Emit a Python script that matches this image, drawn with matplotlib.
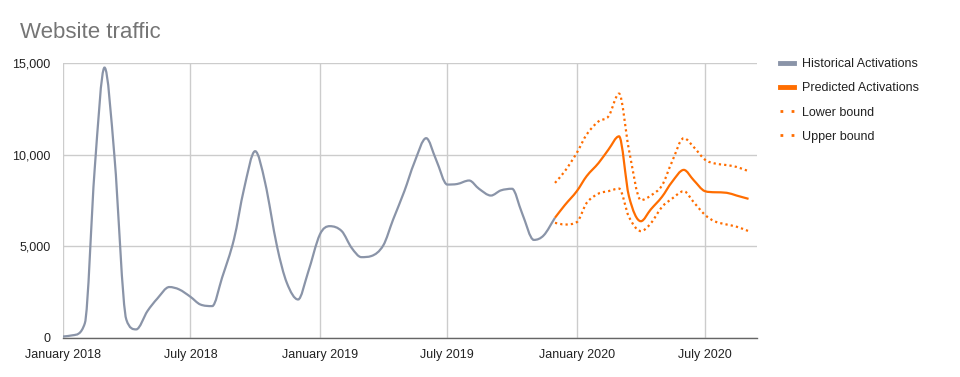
import matplotlib
matplotlib.use("Agg")
import matplotlib.pyplot as plt
import matplotlib.dates as mdates
import numpy as np
import pandas as pd
from matplotlib.path import Path
from matplotlib.patches import PathPatch
from matplotlib.lines import Line2D
from matplotlib.ticker import FuncFormatter

# semi-monthly samples (1st and 15th)
hist_dates = pd.date_range("2018-01-01", "2019-12-01", freq="SMS")
hist_values = [
    80, 150, 800, 9200, 14750, 9950, 1000, 470, 1470, 2150, 2780, 2650,
    2250, 1830, 1740, 3290, 5400, 8100, 10190, 8500, 5010, 3010, 2100, 3560,
    5650, 6100, 5830, 4920, 4410, 4470, 5050, 6460, 8010, 9550, 10900, 9730,
    8370, 8400, 8590, 8140, 7770, 8050, 8140, 6830, 5350, 5600, 6560,
]

pred_dates = pd.date_range("2019-12-01", "2020-09-01", freq="SMS")
pred_values = [6560, 7250, 8010, 8830, 9550, 10280, 11000, 7740, 6370, 7010,
               7700, 8500, 9170, 8610, 8010, 7950, 7920, 7770, 7590]
lower_values = [6280, 6190, 6320, 7370, 7880, 8010, 8150, 6610, 5830, 6250,
                7150, 7590, 8010, 7410, 6720, 6360, 6190, 6070, 5830]
upper_values = [8460, 9100, 10100, 11100, 11820, 12090, 13330, 10280, 7520, 7770,
                8320, 9590, 10900, 10420, 9730, 9520, 9430, 9330, 9100]

labels = ["Historical Activations", "Predicted Activations", "Lower bound", "Upper bound"]
x_ticks = ["2018-01-01", "2018-07-01", "2019-01-01", "2019-07-01", "2020-01-01", "2020-07-01"]
x_tick_labels = ["January 2018", "July 2018", "January 2019", "July 2019",
                 "January 2020", "July 2020"]
y_ticks = [0, 5000, 10000, 15000]

GREY = "#8a94a8"
ORANGE = "#ff6d00"


def smooth_path(x, y):
    # cubic hermite through the samples, tangents clamped (Fritsch-Carlson)
    x = np.asarray(x, float)
    y = np.asarray(y, float)
    h = np.diff(x)
    d = np.diff(y) / h
    m = np.zeros_like(y)
    m[0], m[-1] = d[0], d[-1]
    for k in range(1, len(y) - 1):
        if d[k - 1] * d[k] > 0:
            m[k] = (y[k + 1] - y[k - 1]) / (x[k + 1] - x[k - 1])
    for k in range(len(d)):
        if d[k] == 0:
            m[k] = m[k + 1] = 0
            continue
        a, b = m[k] / d[k], m[k + 1] / d[k]
        if a * a + b * b > 9:
            t = 3 / np.hypot(a, b)
            m[k], m[k + 1] = t * a * d[k], t * b * d[k]
    verts = [(x[0], y[0])]
    codes = [Path.MOVETO]
    for k in range(len(x) - 1):
        verts += [(x[k] + h[k] / 3, y[k] + m[k] * h[k] / 3),
                  (x[k + 1] - h[k] / 3, y[k + 1] - m[k + 1] * h[k] / 3),
                  (x[k + 1], y[k + 1])]
        codes += [Path.CURVE4] * 3
    return Path(verts, codes)


def main():
    plt.rcParams["font.family"] = ["Liberation Sans", "DejaVu Sans"]
    fig = plt.figure(figsize=(9.6, 3.77), dpi=100)
    ax = fig.add_axes([63 / 960, 1 - 338 / 377, 694 / 960, 275 / 377])

    hx = mdates.date2num(hist_dates)
    px = mdates.date2num(pred_dates)
    series = [
        (hx, hist_values, GREY, "-"),
        (px, pred_values, ORANGE, "-"),
        (px, lower_values, ORANGE, (0, (1, 1.4))),
        (px, upper_values, ORANGE, (0, (1, 1.4))),
    ]
    for xs, ys, color, ls in series:
        ax.add_patch(PathPatch(smooth_path(xs, ys), fill=False, edgecolor=color,
                               lw=1.6, linestyle=ls, capstyle="butt", zorder=3))

    ax.set_xlim(mdates.datestr2num("2018-01-01"), mdates.datestr2num("2020-09-13"))
    ax.set_ylim(0, 15000)
    ax.set_xticks(mdates.datestr2num(x_ticks))
    ax.set_xticklabels(x_tick_labels)
    ax.set_yticks(y_ticks)
    ax.yaxis.set_major_formatter(FuncFormatter(lambda v, p: f"{int(v):,}"))
    ax.tick_params(length=0, labelsize=9, colors="#222222")
    ax.tick_params(axis="x", pad=8)
    ax.tick_params(axis="y", pad=9)
    ax.grid(True, color="#cccccc", lw=1)
    ax.set_axisbelow(True)
    for s in ["top", "right", "left"]:
        ax.spines[s].set_visible(False)
    ax.spines["bottom"].set_color("#666666")
    ax.spines["bottom"].set_linewidth(1)

    fig.text(20 / 960, 1 - 32 / 377, "Website traffic", fontsize=16,
             color="#757575", va="center", ha="left")

    handles = [
        Line2D([], [], color=GREY, lw=3.5),
        Line2D([], [], color=ORANGE, lw=3.5),
        Line2D([], [], color=ORANGE, lw=2, linestyle=(0, (1, 3))),
        Line2D([], [], color=ORANGE, lw=2, linestyle=(0, (1, 3))),
    ]
    fig.legend(handles, labels, loc="upper left", bbox_to_anchor=(769 / 960, 1 - 47 / 377),
               frameon=False, fontsize=9, handlelength=1.1, handletextpad=0.65,
               labelspacing=0.97, labelcolor="#222222")

    fig.savefig("out.png", dpi=100)


if __name__ == "__main__":
    main()
